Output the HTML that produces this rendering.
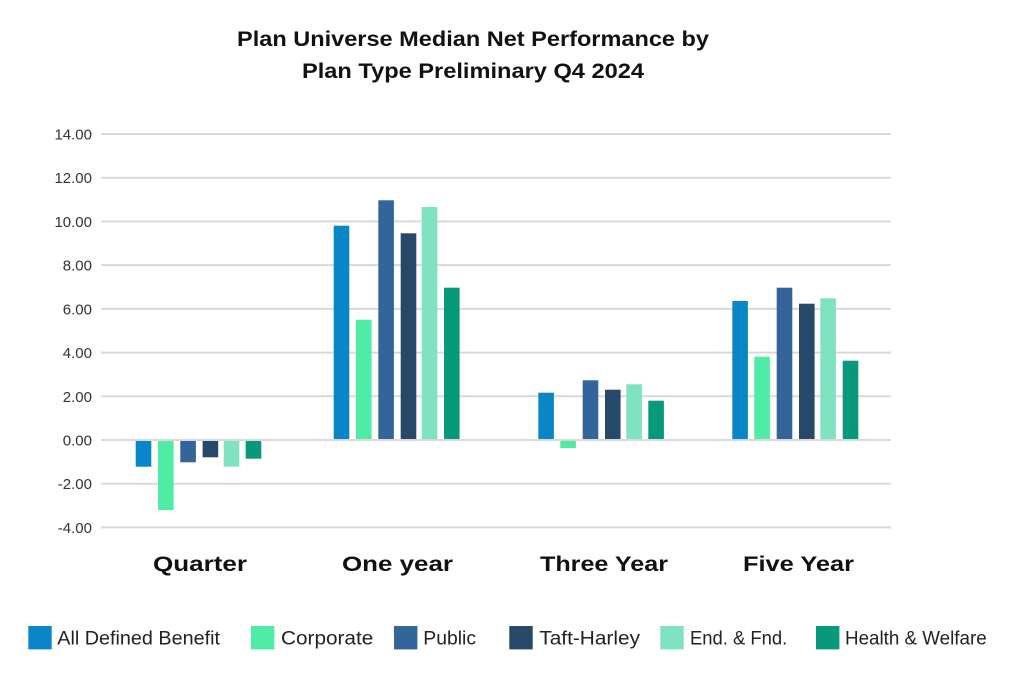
<!DOCTYPE html>
<html>
<head>
<meta charset="utf-8">
<style>
html,body{margin:0;padding:0;background:#fff;}
svg{display:block;}
</style>
</head>
<body>
<svg width="1024" height="679" viewBox="0 0 1024 679" xmlns="http://www.w3.org/2000/svg">
<rect width="1024" height="679" fill="#fff"/>
<!-- title -->
<g font-family="Liberation Sans, sans-serif" font-weight="bold" fill="#111" font-size="21">
<text x="237" y="46" textLength="472" lengthAdjust="spacingAndGlyphs">Plan Universe Median Net Performance by</text>
<text x="302" y="78" textLength="342" lengthAdjust="spacingAndGlyphs">Plan Type Preliminary Q4 2024</text>
</g>
<!-- gridlines -->
<g stroke="#d9d9d9" stroke-width="2">
<line x1="101" x2="891" y1="134" y2="134"/>
<line x1="101" x2="891" y1="177.7" y2="177.7"/>
<line x1="101" x2="891" y1="221.4" y2="221.4"/>
<line x1="101" x2="891" y1="265.1" y2="265.1"/>
<line x1="101" x2="891" y1="308.9" y2="308.9"/>
<line x1="101" x2="891" y1="352.6" y2="352.6"/>
<line x1="101" x2="891" y1="396.3" y2="396.3"/>
<line x1="101" x2="891" y1="440" y2="440"/>
<line x1="101" x2="891" y1="483.7" y2="483.7"/>
<line x1="101" x2="891" y1="527.4" y2="527.4"/>
</g>
<!-- y labels -->
<g font-family="Liberation Sans, sans-serif" font-size="15" fill="#333" text-anchor="end">
<text x="92" y="139.5">14.00</text>
<text x="92" y="183.2">12.00</text>
<text x="92" y="226.9">10.00</text>
<text x="92" y="270.6">8.00</text>
<text x="92" y="314.4">6.00</text>
<text x="92" y="358.1">4.00</text>
<text x="92" y="401.8">2.00</text>
<text x="92" y="445.5">0.00</text>
<text x="92" y="489.2">-2.00</text>
<text x="92" y="532.9">-4.00</text>
</g>
<!-- bars: Quarter -->
<rect x="135.7" y="441" width="15.6" height="25.7" fill="#0a86c8"/>
<rect x="158" y="441" width="15.6" height="69" fill="#50eca6"/>
<rect x="180.3" y="441" width="15.6" height="21.3" fill="#33659b"/>
<rect x="202.6" y="441" width="15.6" height="16.3" fill="#26496a"/>
<rect x="223.7" y="441" width="15.6" height="25.7" fill="#7fe2c1"/>
<rect x="245.7" y="441" width="15.6" height="17.7" fill="#07997a"/>
<!-- One year -->
<rect x="333.7" y="225.7" width="15.6" height="213.3" fill="#0a86c8"/>
<rect x="356" y="319.7" width="15.6" height="119.3" fill="#50eca6"/>
<rect x="378.3" y="200.3" width="15.6" height="238.7" fill="#33659b"/>
<rect x="400.7" y="233.3" width="15.6" height="205.7" fill="#26496a"/>
<rect x="421.7" y="207" width="15.6" height="232" fill="#7fe2c1"/>
<rect x="444" y="287.7" width="15.6" height="151.3" fill="#07997a"/>
<!-- Three Year -->
<rect x="538.3" y="392.7" width="15.6" height="46.3" fill="#0a86c8"/>
<rect x="560.3" y="441" width="15.6" height="7" fill="#50eca6"/>
<rect x="582.7" y="380.3" width="15.6" height="58.7" fill="#33659b"/>
<rect x="605" y="389.7" width="15.6" height="49.3" fill="#26496a"/>
<rect x="626.3" y="384.3" width="15.6" height="54.7" fill="#7fe2c1"/>
<rect x="648.3" y="400.7" width="15.6" height="38.3" fill="#07997a"/>
<!-- Five Year -->
<rect x="732.3" y="301" width="15.6" height="138" fill="#0a86c8"/>
<rect x="754.3" y="356.7" width="15.6" height="82.3" fill="#50eca6"/>
<rect x="776.7" y="287.7" width="15.6" height="151.3" fill="#33659b"/>
<rect x="799" y="303.7" width="15.6" height="135.3" fill="#26496a"/>
<rect x="820.3" y="298.3" width="15.6" height="140.7" fill="#7fe2c1"/>
<rect x="842.7" y="360.7" width="15.6" height="78.3" fill="#07997a"/>
<!-- category labels -->
<g font-family="Liberation Sans, sans-serif" font-weight="bold" fill="#111" font-size="21">
<text x="153" y="571" textLength="94" lengthAdjust="spacingAndGlyphs">Quarter</text>
<text x="342" y="571" textLength="111" lengthAdjust="spacingAndGlyphs">One year</text>
<text x="540" y="571" textLength="128" lengthAdjust="spacingAndGlyphs">Three Year</text>
<text x="743" y="571" textLength="111" lengthAdjust="spacingAndGlyphs">Five Year</text>
</g>
<!-- legend -->
<rect x="28.3" y="626" width="23.4" height="23.4" fill="#0a86c8"/>
<rect x="251" y="626" width="23.4" height="23.4" fill="#50eca6"/>
<rect x="394" y="626" width="23.4" height="23.4" fill="#33659b"/>
<rect x="509.3" y="626" width="23.4" height="23.4" fill="#26496a"/>
<rect x="660.3" y="626" width="23.4" height="23.4" fill="#7fe2c1"/>
<rect x="816" y="626" width="23.4" height="23.4" fill="#07997a"/>
<g font-family="Liberation Sans, sans-serif" font-size="19" fill="#222">
<text x="57.3" y="644.5" textLength="162.7" lengthAdjust="spacingAndGlyphs">All Defined Benefit</text>
<text x="281" y="644.5" textLength="92.3" lengthAdjust="spacingAndGlyphs">Corporate</text>
<text x="423.3" y="644.5" textLength="52.7" lengthAdjust="spacingAndGlyphs">Public</text>
<text x="539.3" y="644.5" textLength="100.7" lengthAdjust="spacingAndGlyphs">Taft-Harley</text>
<text x="690" y="644.5" textLength="97.3" lengthAdjust="spacingAndGlyphs">End. &amp; Fnd.</text>
<text x="845" y="644.5" textLength="141.7" lengthAdjust="spacingAndGlyphs">Health &amp; Welfare</text>
</g>
</svg>
</body>
</html>
